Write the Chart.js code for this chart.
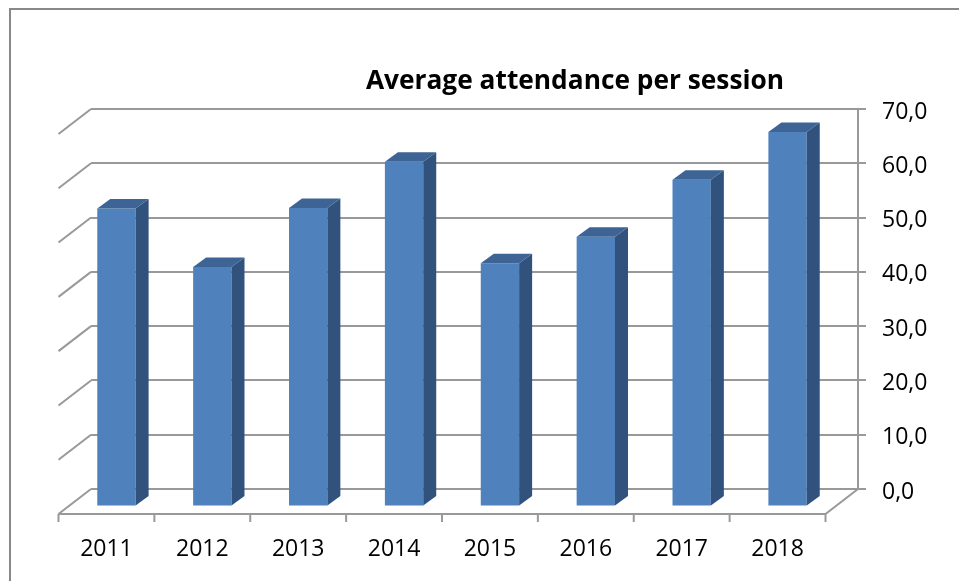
<!DOCTYPE html>
<html>
<head>
<meta charset="utf-8">
<style>html,body{margin:0;padding:0;background:#fff}canvas{display:block}</style>
<script src="https://cdn.jsdelivr.net/npm/chart.js@4"></script>
</head>
<body>
<canvas id="c" width="959" height="581"></canvas>
<script>
const categories = ['2011','2012','2013','2014','2015','2016','2017','2018'];
const attendance = [54.9,44.1,55.0,63.5,44.8,49.7,60.2,69.0];
const yTickLabels = ['0,0','10,0','20,0','30,0','40,0','50,0','60,0','70,0'];
const titleText = 'Average attendance per session';

const FONT = '"Open Sans", sans-serif';
const GRID = '#999999';
const floorDX = -32.5, floorDY = 25;   // back wall -> front floor edge
const barDX = -22.5, barDY = 17.5;     // back wall -> front face of the bars
const depthX = 13, depthY = 9.5;       // bar depth

const scene = {
  id: 'scene',
  afterLayout(chart) {
    chart.titleBlock.left += 50;
    chart.titleBlock.right += 50;
  },
  beforeDraw(chart) {
    const ctx = chart.ctx;
    ctx.save();
    ctx.fillStyle = '#fff';
    ctx.fillRect(0, 0, chart.width, chart.height);
    ctx.strokeStyle = '#888888';
    ctx.lineWidth = 2;
    ctx.beginPath();
    ctx.moveTo(10, 581); ctx.lineTo(10, 9); ctx.lineTo(959, 9);
    ctx.stroke();
    ctx.restore();
  },
  beforeDatasetsDraw(chart) {
    const ctx = chart.ctx, y = chart.scales.y, x = chart.scales.x;
    ctx.save();
    ctx.strokeStyle = GRID;
    ctx.lineWidth = 2;
    ctx.beginPath();
    y.ticks.forEach(t => {
      const py = y.getPixelForValue(t.value);
      ctx.moveTo(x.left, py);
      ctx.lineTo(x.left + floorDX, py + floorDY);
    });
    const base = y.getPixelForValue(0) + floorDY;
    ctx.moveTo(x.left + floorDX, base);
    ctx.lineTo(x.right + floorDX, base);
    ctx.lineTo(x.right, y.getPixelForValue(0));
    const step = (x.right - x.left) / categories.length;
    for (let i = 0; i <= categories.length; i++) {
      const px = x.left + floorDX + i * step;
      ctx.moveTo(px, base);
      ctx.lineTo(px, base + 8);
    }
    ctx.stroke();
    ctx.restore();
    ctx.save();
    ctx.translate(barDX, barDY);
  },
  afterDatasetsDraw(chart) {
    const ctx = chart.ctx;
    chart.getDatasetMeta(0).data.forEach(b => {
      const p = b.getProps(['x','y','base','width'], true);
      const l = p.x - p.width / 2, r = p.x + p.width / 2;
      ctx.fillStyle = '#31527c';
      ctx.beginPath();
      ctx.moveTo(r, p.y); ctx.lineTo(r + depthX, p.y - depthY);
      ctx.lineTo(r + depthX, p.base - depthY); ctx.lineTo(r, p.base);
      ctx.closePath(); ctx.fill();
      ctx.fillStyle = '#3d6494';
      ctx.beginPath();
      ctx.moveTo(l, p.y); ctx.lineTo(l + depthX, p.y - depthY);
      ctx.lineTo(r + depthX, p.y - depthY); ctx.lineTo(r, p.y);
      ctx.closePath(); ctx.fill();
    });
    ctx.restore();
  }
};

new Chart(document.getElementById('c'), {
  type: 'bar',
  data: {
    labels: categories,
    datasets: [{
      data: attendance,
      backgroundColor: '#4f81bd',
      borderWidth: 0,
      barPercentage: 0.4,
      categoryPercentage: 1,
      clip: false
    }]
  },
  plugins: [scene],
  options: {
    responsive: false,
    animation: false,
    devicePixelRatio: 1,
    layout: { padding: { left: 91, top: 66, right: 0, bottom: 0 } },
    plugins: {
      legend: { display: false },
      tooltip: { enabled: false },
      title: {
        display: true,
        text: titleText,
        color: '#000',
        font: { family: FONT, size: 26.3, weight: 'bold', lineHeight: 1.2 },
        padding: { top: 0, bottom: 11.44 }
      }
    },
    scales: {
      x: {
        grid: { display: false },
        border: { display: false },
        ticks: {
          color: '#000',
          font: { family: FONT, size: 23 },
          padding: 39,
          maxRotation: 0,
          autoSkip: false,
          labelOffset: floorDX
        },
        afterFit(s) { s.height = 92; s.paddingLeft = 0; s.paddingRight = 0; }
      },
      y: {
        position: 'right',
        min: 0,
        max: 70,
        grid: { color: GRID, lineWidth: 2, tickLength: 8, drawTicks: true },
        border: { display: true, color: GRID, width: 2 },
        ticks: {
          stepSize: 10,
          color: '#000',
          font: { family: FONT, size: 23 },
          padding: 16,
          labelOffset: 3,
          callback: (v, i) => yTickLabels[i]
        },
        afterFit(s) { s.width = 101; s.paddingTop = 0; s.paddingBottom = 0; }
      }
    }
  }
});
</script>
</body>
</html>
